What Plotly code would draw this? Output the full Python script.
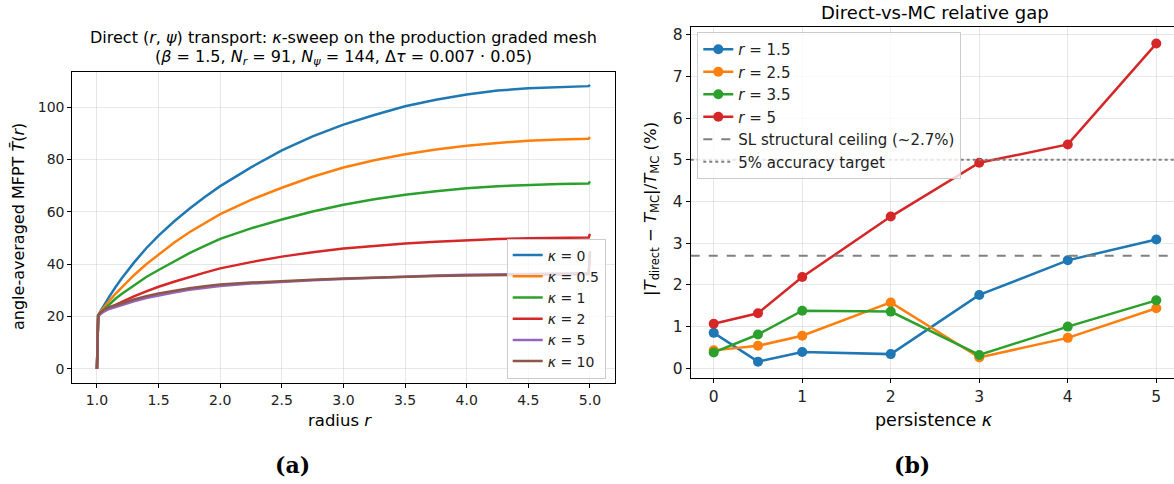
import plotly.graph_objects as go

# ---------------- data: panel (a) ----------------
radius = [1.0, 1.01, 1.03, 1.06, 1.1, 1.15, 1.2, 1.3, 1.4, 1.5, 1.625, 1.75, 1.875, 2.0,
          2.25, 2.5, 2.75, 3.0, 3.25, 3.5, 3.75, 4.0, 4.25, 4.5, 4.75, 4.99, 5.0]
kappa_labels = ["0", "0.5", "1", "2", "5", "10"]
T_k0 = [0, 20.5, 22.2, 24.6, 27.6, 31.2, 34.5, 40.6, 46.1, 50.9, 56.3, 61.2, 65.7, 69.8,
        77.0, 83.5, 88.8, 93.3, 97.0, 100.3, 102.8, 104.8, 106.3, 107.2, 107.7, 108.0, 108.5]
T_k05 = [0, 20.5, 21.8, 23.7, 26.0, 28.7, 31.2, 35.8, 40.0, 43.8, 48.2, 52.2, 55.8, 59.1,
         64.6, 69.2, 73.4, 76.9, 79.7, 82.0, 83.8, 85.2, 86.3, 87.1, 87.6, 87.9, 88.6]
T_k1 = [0, 20.5, 21.5, 22.9, 24.7, 26.8, 28.6, 32.0, 35.1, 37.8, 41.1, 44.2, 47.0, 49.7,
        53.7, 57.1, 60.1, 62.7, 64.8, 66.5, 67.9, 69.0, 69.8, 70.3, 70.6, 70.8, 71.6]
T_k2 = [0, 20.5, 21.3, 22.3, 23.4, 24.5, 25.6, 27.7, 29.6, 31.4, 33.3, 35.1, 36.8, 38.4,
        40.8, 42.9, 44.6, 46.0, 47.0, 47.9, 48.6, 49.2, 49.6, 49.9, 50.1, 50.2, 51.6]
T_k5 = [0, 20.0, 21.0, 22.0, 22.9, 23.7, 24.3, 25.8, 27.1, 28.1, 29.2, 30.2, 31.0, 31.7,
        32.6, 33.3, 33.9, 34.4, 34.9, 35.3, 35.7, 36.0, 36.2, 36.4, 36.5, 36.6, 44.0]
T_k10 = [0, 20.5, 21.6, 22.7, 23.6, 24.4, 25.0, 26.5, 27.8, 28.8, 29.9, 30.8, 31.6, 32.3,
         33.0, 33.6, 34.1, 34.5, 34.9, 35.2, 35.5, 35.7, 35.9, 36.0, 36.1, 36.2, 45.0]
curves_a = [T_k0, T_k05, T_k1, T_k2, T_k5, T_k10]

# ---------------- data: panel (b) ----------------
kappa = [0, 0.5, 1, 2, 3, 4, 5]
r_labels = ["1.5", "2.5", "3.5", "5"]
gap_r15 = [0.85, 0.16, 0.39, 0.34, 1.76, 2.59, 3.09]
gap_r25 = [0.43, 0.54, 0.78, 1.58, 0.26, 0.73, 1.44]
gap_r35 = [0.38, 0.81, 1.38, 1.36, 0.32, 1.00, 1.63]
gap_r5 = [1.07, 1.32, 2.19, 3.64, 4.93, 5.37, 7.79]
curves_b = [gap_r15, gap_r25, gap_r35, gap_r5]
sl_ceiling = 2.7
accuracy_target = 5.0

colors = ["#1f77b4", "#ff7f0e", "#2ca02c", "#d62728", "#9467bd", "#8c564b"]
FONT = "DejaVu Sans"
W, H = 1174, 484

fig = go.Figure()

for lab, ys, c in zip(kappa_labels, curves_a, colors):
    fig.add_trace(go.Scatter(x=radius, y=ys, mode="lines", name=f"<i>κ</i> = {lab}",
                             line=dict(color=c, width=2.5), xaxis="x", yaxis="y",
                             legend="legend"))

for lab, ys, c in zip(r_labels, curves_b, colors):
    fig.add_trace(go.Scatter(x=kappa, y=ys, mode="lines+markers", name=f"<i>r</i> = {lab}",
                             line=dict(color=c, width=2.5), marker=dict(color=c, size=10),
                             xaxis="x2", yaxis="y2", legend="legend2"))

xr2 = [-0.26, 5.20]
fig.add_trace(go.Scatter(x=xr2, y=[sl_ceiling, sl_ceiling], mode="lines",
                         name="SL structural ceiling (~2.7%)",
                         line=dict(color="#808080", width=2, dash="dash"),
                         xaxis="x2", yaxis="y2", legend="legend2"))
fig.add_trace(go.Scatter(x=xr2, y=[accuracy_target, accuracy_target], mode="lines",
                         name="5% accuracy target",
                         line=dict(color="#808080", width=2, dash="dot"),
                         xaxis="x2", yaxis="y2", legend="legend2"))


def px_x(p):
    return p / W


def px_y(p):
    return (H - p) / H


def axis_common(tsize):
    return dict(showgrid=True, gridcolor="rgba(176,176,176,0.3)", gridwidth=1,
                showline=True, linecolor="black", linewidth=1,
                ticks="outside", ticklen=4, tickwidth=1, tickcolor="black",
                tickfont=dict(family=FONT, size=tsize, color="#222"),
                zeroline=False)


fig.update_layout(
    width=W, height=H, autosize=False,
    margin=dict(l=0, r=0, t=0, b=0),
    paper_bgcolor="white", plot_bgcolor="white",
    font=dict(family=FONT, size=14, color="#222"),
    xaxis=dict(domain=[px_x(72.3), px_x(614.6)], range=[0.8, 5.2], anchor="y",
               tickvals=[1.0, 1.5, 2.0, 2.5, 3.0, 3.5, 4.0, 4.5, 5.0], tickformat=".1f",
               mirror=True, **axis_common(14)),
    yaxis=dict(domain=[px_y(383.1), px_y(72)], range=[-5.4, 113.4], anchor="x",
               tickvals=[0, 20, 40, 60, 80, 100], mirror=True, **axis_common(14)),
    xaxis2=dict(domain=[px_x(690.7), 1.0], range=xr2, anchor="y2",
                tickvals=[0, 1, 2, 3, 4, 5], mirror=True, **axis_common(15.5)),
    yaxis2=dict(domain=[px_y(378.3), px_y(27.3)], range=[-0.24, 8.18], anchor="x2",
                tickvals=list(range(9)), mirror=False, **axis_common(15.5)),
    legend=dict(x=px_x(506.7), y=px_y(238.5), xanchor="left", yanchor="top",
                bgcolor="rgba(255,255,255,0.8)", bordercolor="#cccccc", borderwidth=1,
                font=dict(family=FONT, size=14, color="#222"), itemwidth=30,
                tracegroupgap=0),
    legend2=dict(x=px_x(697.3), y=px_y(32), xanchor="left", yanchor="top",
                 bgcolor="rgba(255,255,255,0.8)", bordercolor="#cccccc", borderwidth=1,
                 font=dict(family=FONT, size=15, color="#222"), itemwidth=30,
                 tracegroupgap=0),
    showlegend=True,
)


def note(text, x, y, size, angle=0, family=FONT):
    return dict(text=text, x=px_x(x), y=px_y(y), xref="paper", yref="paper",
                showarrow=False, textangle=angle,
                font=dict(family=family, size=size, color="black"),
                xanchor="center", yanchor="middle")


ann = [
    note("Direct (<i>r</i>, <i>ψ</i>) transport: <i>κ</i>-sweep on the production graded mesh",
         343.5, 37, 16),
    note("(<i>β</i> = 1.5, <i>N<sub>r</sub></i> = 91, <i>N<sub>ψ</sub></i> = 144, "
         "Δ<i>τ</i> = 0.007 · 0.05)", 343.5, 57, 16),
    note("Direct-vs-MC relative gap", 935, 13, 18),
    note("radius <i>r</i>", 340.5, 420, 16.5),
    note("persistence <i>κ</i>", 934, 420, 17.5),
    note("angle-averaged MFPT <i>T̄</i>(<i>r</i>)", 18, 227, 16, angle=-90),
    note("|<i>T</i><sub>direct</sub> − <i>T</i><sub>MC</sub>|/<i>T</i><sub>MC</sub> (%)",
         652, 209, 16.5, angle=-90),
    note("<b>(a)</b>", 292, 465, 22, family="DejaVu Serif"),
    note("<b>(b)</b>", 912, 465, 22, family="DejaVu Serif"),
]
fig.update_layout(annotations=ann)

fig.write_html("out.html", config={"displayModeBar": False},
               post_script="document.body.style.margin='0px';document.body.style.overflow='hidden';")
